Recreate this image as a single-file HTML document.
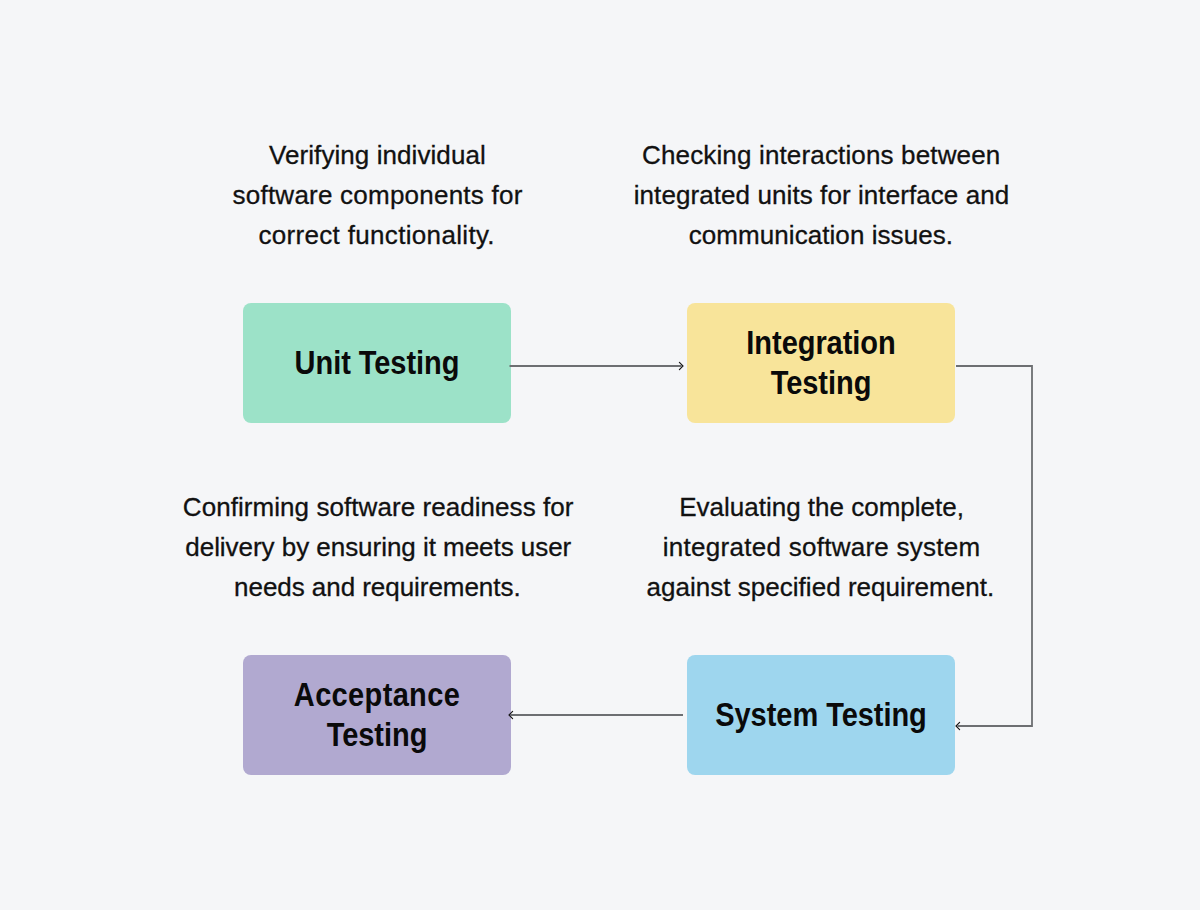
<!DOCTYPE html>
<html><head><meta charset="utf-8">
<style>
html,body{margin:0;padding:0;}
body{width:1200px;height:910px;background:#f5f6f8;position:relative;overflow:hidden;font-family:"Liberation Sans",sans-serif;}
.desc{position:absolute;width:460px;text-align:center;font-size:26px;line-height:40px;color:#111;white-space:nowrap;-webkit-text-stroke:0.3px #111;}
.box span{display:inline-block;transform:scaleY(1.13);}
.box{position:absolute;width:268px;height:120px;border-radius:8px;display:flex;align-items:center;justify-content:center;text-align:center;font-weight:bold;font-size:29px;letter-spacing:-0.05px;line-height:40px;color:#0a0a0a;}
svg{position:absolute;left:0;top:0;}
</style></head><body>
<div class="desc" style="left:147.43px;top:135px;letter-spacing:0.07px">Verifying individual</div>
<div class="desc" style="left:147.56px;top:175px;letter-spacing:0.23px">software components for</div>
<div class="desc" style="left:146.66px;top:215px;letter-spacing:0.33px">correct functionality.</div>
<div class="desc" style="left:591.23px;top:135px;letter-spacing:0.15px">Checking interactions between</div>
<div class="desc" style="left:591.54px;top:175px;letter-spacing:0.08px">integrated units for interface and</div>
<div class="desc" style="left:590.93px;top:215px;letter-spacing:0.06px">communication issues.</div>
<div class="desc" style="left:148.18px;top:487px;letter-spacing:0.06px">Confirming software readiness for</div>
<div class="desc" style="left:148.28px;top:527px;letter-spacing:-0.04px">delivery by ensuring it meets user</div>
<div class="desc" style="left:147.33px;top:567px;letter-spacing:-0.05px">needs and requirements.</div>
<div class="desc" style="left:591.55px;top:487px;letter-spacing:0.0px">Evaluating the complete,</div>
<div class="desc" style="left:591.68px;top:527px;letter-spacing:0.27px">integrated software system</div>
<div class="desc" style="left:590.37px;top:567px;letter-spacing:0.03px">against specified requirement.</div>
<div class="box" style="left:243px;top:303px;background:#9ce2c8;"><span>Unit Testing</span></div>
<div class="box" style="left:687px;top:303px;background:#f8e49a;"><div><span>Integration</span><br><span>Testing</span></div></div>
<div class="box" style="left:243px;top:655px;background:#b1a9d0;"><div><span style="letter-spacing:0.35px">Acceptance</span><br><span>Testing</span></div></div>
<div class="box" style="left:687px;top:655px;background:#9ed6ee;"><span>System Testing</span></div>
<svg width="1200" height="910" viewBox="0 0 1200 910">
<g fill="none" stroke="#6d6f72" stroke-width="1.8">
<path d="M509.5 366H681.5"/>
<path d="M956 366H1032V726H957.5"/>
<path d="M683 715H510.5"/>
</g>
<g fill="none" stroke="#161616" stroke-width="1.15" stroke-linecap="round" stroke-linejoin="miter">
<path d="M679.4 362.4L683 366L679.4 369.6"/>
<path d="M959.6 722.4L956 726L959.6 729.6"/>
<path d="M512.6 711.4L509 715L512.6 718.6"/>
</g>
</svg>
</body></html>
